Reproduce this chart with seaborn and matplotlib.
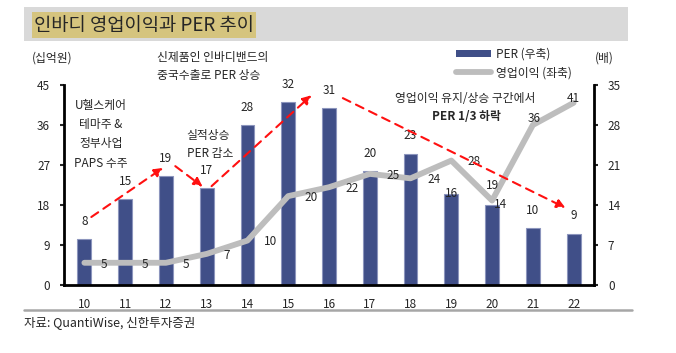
import numpy as np
import matplotlib.pyplot as plt
import seaborn as sns
from matplotlib.patches import Rectangle, Patch
from matplotlib.lines import Line2D

# data
years = ['10', '11', '12', '13', '14', '15', '16', '17', '18', '19', '20', '21', '22']
per = [8, 15, 19, 17, 28, 32, 31, 20, 23, 16, 14, 10, 9]        # 배, right axis
op_profit = [5, 5, 5, 7, 10, 20, 22, 25, 24, 28, 19, 36, 41]    # 십억원, left axis

BAR_COLOR = '#404F88'
LINE_COLOR = '#BDBDBD'
RED = '#FF1010'
W, H = 676, 353

sns.set_style('white')
plt.rcParams['font.family'] = ['Noto Sans CJK KR', 'DejaVu Sans']
plt.rcParams['font.size'] = 8.5


def px(x, y):
    # pixel position -> figure fraction
    return x / W, 1 - y / H


fig = plt.figure(figsize=(W / 100, H / 100), dpi=100)
ax = fig.add_axes([64 / W, 68 / H, 530 / W, 200 / H])

# PER bars (right scale)
sns.barplot(x=years, y=per, ax=ax, color=BAR_COLOR, saturation=1, width=0.34,
            edgecolor='#8C95BD', linewidth=0.8)
ax.set_ylim(0, 35)
ax.set_yticks(np.arange(0, 36, 7))
ax.set_xlabel('')
ax.set_ylabel('')

# 영업이익 line (left scale)
ax2 = ax.twinx()
sns.lineplot(x=np.arange(len(years)), y=op_profit, ax=ax2, color=LINE_COLOR,
             linewidth=4.2, solid_capstyle='round')
ax2.set_ylim(0, 45)
ax2.set_yticks(np.arange(0, 46, 9))
ax2.set_ylabel('')

# twinx puts the first axis on the left, so swap sides afterwards
ax.yaxis.tick_right()
ax2.yaxis.tick_left()

ax.set_xlim(-0.5, len(years) - 0.5)
ax.set_xticks(np.arange(len(years)))
ax.set_xticklabels(years)
ax.set_xticks(np.arange(len(years) + 1) - 0.5, minor=True)
ax.tick_params(axis='x', which='major', length=0, pad=9)
ax.tick_params(axis='x', which='minor', length=4, width=1.5, direction='out')
ax.tick_params(axis='y', length=3, width=1.5, direction='out', pad=7)
ax2.tick_params(axis='y', length=3, width=1.5, direction='out', pad=7)

for a in (ax, ax2):
    for s in a.spines.values():
        s.set_visible(False)
for s in ('left', 'right', 'bottom'):
    ax2.spines[s].set_visible(True)
    ax2.spines[s].set_linewidth(2)
    ax2.spines[s].set_color('black')

# bar value labels
for i, v in enumerate(per):
    if i == 9:
        ax.annotate(str(v), (i, v), xytext=(0, 0), textcoords='offset points',
                    ha='center', va='center')
    elif i == 10:
        ax.annotate(str(v), (i, v), xytext=(6, 0), textcoords='offset points',
                    ha='center', va='center')
    else:
        ax.annotate(str(v), (i, v), xytext=(0, 8), textcoords='offset points',
                    ha='center', va='bottom')

# line value labels
for i, v in enumerate(op_profit):
    if i == 10:
        ax2.annotate(str(v), (i, v), xytext=(0, 10.5), textcoords='offset points',
                     ha='center', va='center')
    elif i == 11:
        ax2.annotate(str(v), (i, v), xytext=(1, 5), textcoords='offset points',
                     ha='center', va='center')
    elif i == 12:
        ax2.annotate(str(v), (i, v), xytext=(0, 3), textcoords='offset points',
                     ha='center', va='center')
    else:
        ax2.annotate(str(v), (i, v), xytext=(12, -1), textcoords='offset points',
                     ha='left', va='center')

# red dashed trend arrows (PER scale)
arrows = [((0.17, 11.9), (1.93, 20.5)),
          ((2.23, 20.8), (2.9, 17.2)),
          ((3.12, 17.3), (5.57, 33.2)),
          ((6.34, 32.7), (11.8, 13.5))]
for start, end in arrows:
    ax2.annotate('', xy=(end[0], end[1] * 45 / 35), xytext=(start[0], start[1] * 45 / 35),
                 arrowprops=dict(arrowstyle='-|>', color=RED, lw=1.5, linestyle=(0, (4, 3)),
                                 mutation_scale=13, shrinkA=0, shrinkB=0))

# header band and title
fig.patches.append(Rectangle(px(24, 41), 604 / W, 34 / H, transform=fig.transFigure,
                             facecolor='#D9D9D9', edgecolor='none', zorder=0))
fig.text(*px(34, 25), '인바디 영업이익과 PER 추이', fontsize=13.5, ha='left', va='center',
         bbox=dict(facecolor='#D5C47E', edgecolor='none', pad=1.5))

# axis units
fig.text(*px(32, 58), '(십억원)', ha='left', va='center')
fig.text(*px(595, 58), '(배)', ha='left', va='center')

# annotations
fig.text(*px(157, 57), '신제품인 인바디밴드의', ha='left', va='center')
fig.text(*px(157, 76), '중국수출로 PER 상승', ha='left', va='center')
for t, y in zip(['U헬스케어', '테마주 &', '정부사업', 'PAPS 수주'], [106, 125, 144, 163]):
    fig.text(*px(101, y), t, ha='center', va='center')
fig.text(*px(208, 135), '실적상승', ha='center', va='center')
fig.text(*px(210, 154), 'PER 감소', ha='center', va='center')
fig.text(*px(465, 98), '영업이익 유지/상승 구간에서', ha='center', va='center')
fig.text(*px(466, 117), 'PER 1/3 하락', ha='center', va='center', fontweight='bold')

# legend
handles = [Patch(facecolor=BAR_COLOR, edgecolor='none'),
           Line2D([], [], color=LINE_COLOR, lw=4.2)]
fig.legend(handles, ['PER (우축)', '영업이익 (좌축)'], loc='upper left',
           bbox_to_anchor=px(450, 42), frameon=False, handlelength=3.0,
           handleheight=0.6, handletextpad=0.4, labelspacing=0.45, borderpad=0)

# footer
fig.add_artist(Line2D([24 / W, 632 / W], [1 - 310 / H] * 2, transform=fig.transFigure,
                      color='#A6A6A6', lw=1.8))
fig.text(*px(24, 323), '자료: QuantiWise, 신한투자증권', ha='left', va='center', fontsize=9)

fig.savefig('out.png', dpi=100)
